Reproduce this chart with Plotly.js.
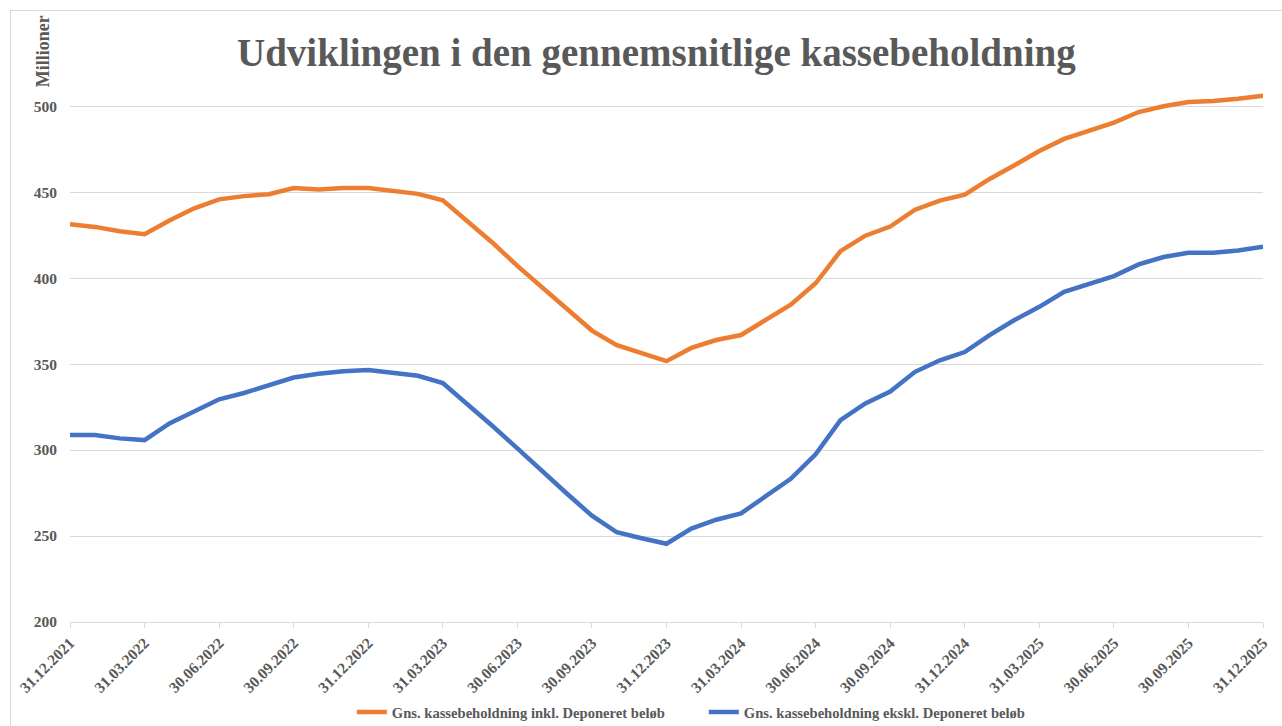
<!DOCTYPE html>
<html>
<head>
<meta charset="utf-8">
<script src="https://cdn.plot.ly/plotly-3.0.1.min.js"></script>
<style>
  html, body { margin: 0; padding: 0; background: #ffffff; overflow: hidden; }
  #wrap { position: relative; width: 1282px; height: 726px; }
  #chart { width: 1282px; height: 726px; }
  #frame { position: absolute; left: 10px; top: 10px; width: 1400px; height: 900px;
           border: 1px solid #d9d9d9; pointer-events: none; box-sizing: border-box; }
</style>
</head>
<body>
<div id="wrap">
  <div id="chart"></div>
  <div id="frame"></div>
</div>
<script>
const dates = [
  "31.12.2021",
  "31.01.2022","28.02.2022","31.03.2022","30.04.2022","31.05.2022","30.06.2022",
  "31.07.2022","31.08.2022","30.09.2022","31.10.2022","30.11.2022","31.12.2022",
  "31.01.2023","28.02.2023","31.03.2023","30.04.2023","31.05.2023","30.06.2023",
  "31.07.2023","31.08.2023","30.09.2023","31.10.2023","30.11.2023","31.12.2023",
  "31.01.2024","29.02.2024","31.03.2024","30.04.2024","31.05.2024","30.06.2024",
  "31.07.2024","31.08.2024","30.09.2024","31.10.2024","30.11.2024","31.12.2024",
  "31.01.2025","28.02.2025","31.03.2025","30.04.2025","31.05.2025","30.06.2025",
  "31.07.2025","31.08.2025","30.09.2025","31.10.2025","30.11.2025","31.12.2025"
];

const inklDeponeret = [
  431.3, 429.8, 427.3, 425.5, 433.5, 440.6, 445.8, 447.7, 448.8, 452.4, 451.6, 452.4,
  452.4, 450.4, 449.0, 445.3, 432.7, 420.6, 407.1, 394.4, 381.4, 369.5, 361.0, 356.3,
  351.7, 359.4, 364.0, 366.9, 375.6, 384.6, 397.0, 415.7, 424.7, 430.0, 439.8, 445.1,
  448.5, 457.7, 465.7, 473.9, 481.0, 486.0, 490.5, 496.6, 500.0, 502.4, 503.0, 504.3,
  506.1
];

const ekskDeponeret = [
  308.7, 308.7, 306.8, 305.8, 315.5, 322.5, 329.5, 333.2, 337.5, 342.2, 344.4, 345.9,
  346.5, 344.8, 343.2, 339.0, 326.7, 314.0, 301.0, 287.5, 274.6, 261.8, 252.2, 248.7,
  245.5, 254.3, 259.5, 263.2, 273.3, 283.3, 297.5, 317.4, 327.1, 334.0, 345.5, 352.2,
  357.0, 366.9, 375.6, 383.3, 392.0, 396.9, 401.2, 408.0, 412.3, 414.7, 414.7, 416.1,
  418.2
];

const seriesNames = [
  "Gns. kassebeholdning inkl. Deponeret beløb",
  "Gns. kassebeholdning ekskl. Deponeret beløb"
];

const quarterTicks = dates.filter((d, i) => i % 3 === 0);
const yTicks = [200, 250, 300, 350, 400, 450, 500];

const serif = "Liberation Serif, Times New Roman, serif";
const grey = "#595959";

const traces = [
  {
    x: dates, y: inklDeponeret, name: seriesNames[0], type: "scatter", mode: "lines",
    line: { color: "#ED7D31", width: 4.5 }, hoverinfo: "x+y"
  },
  {
    x: dates, y: ekskDeponeret, name: seriesNames[1], type: "scatter", mode: "lines",
    line: { color: "#4472C4", width: 4.5 }, hoverinfo: "x+y"
  }
];

const layout = {
  width: 1282, height: 726,
  margin: { l: 70, r: 19, t: 89, b: 104, autoexpand: false },
  paper_bgcolor: "rgba(0,0,0,0)",
  plot_bgcolor: "#ffffff",
  title: {
    text: "Udviklingen i den gennemsnitlige kassebeholdning",
    font: { family: serif, size: 39, color: grey, weight: "bold" },
    xref: "container", x: 0.512, xanchor: "center",
    yref: "container", y: 0.928, yanchor: "middle"
  },
  xaxis: {
    type: "category",
    range: [0, dates.length - 1],
    automargin: false,
    tickmode: "array",
    tickvals: quarterTicks,
    ticktext: quarterTicks,
    tickangle: -45,
    tickfont: { family: serif, size: 15.5, color: grey, weight: "bold" },
    showgrid: false,
    showline: true, linecolor: "#d9d9d9", linewidth: 1,
    ticks: "outside", ticklen: 5, tickcolor: "#d9d9d9", tickwidth: 1,
    zeroline: false, fixedrange: true
  },
  yaxis: {
    range: [200, 510],
    automargin: false,
    tickmode: "array",
    tickvals: yTicks,
    ticktext: yTicks.map(String),
    tickfont: { family: serif, size: 15.5, color: grey, weight: "bold" },
    showgrid: true, gridcolor: "#d9d9d9", gridwidth: 1,
    showline: false, zeroline: false,
    ticks: "", ticklabelstandoff: 12, fixedrange: true
  },
  showlegend: true,
  legend: {
    orientation: "h",
    xref: "container", x: 0.549, xanchor: "center",
    yref: "container", y: 0.0193, yanchor: "middle",
    font: { family: serif, size: 14.6, color: grey, weight: "bold" },
    entrywidth: 307, entrywidthmode: "pixels",
    itemwidth: 30, tracegroupgap: 0
  },
  annotations: [
    {
      text: "Millioner", textangle: -90,
      xref: "paper", x: -0.0226, xanchor: "center",
      yref: "paper", y: 1.071, yanchor: "middle",
      showarrow: false,
      font: { family: serif, size: 18, color: grey, weight: "bold" }
    }
  ]
};

Plotly.newPlot("chart", traces, layout, { displayModeBar: false, staticPlot: true });
</script>
</body>
</html>
